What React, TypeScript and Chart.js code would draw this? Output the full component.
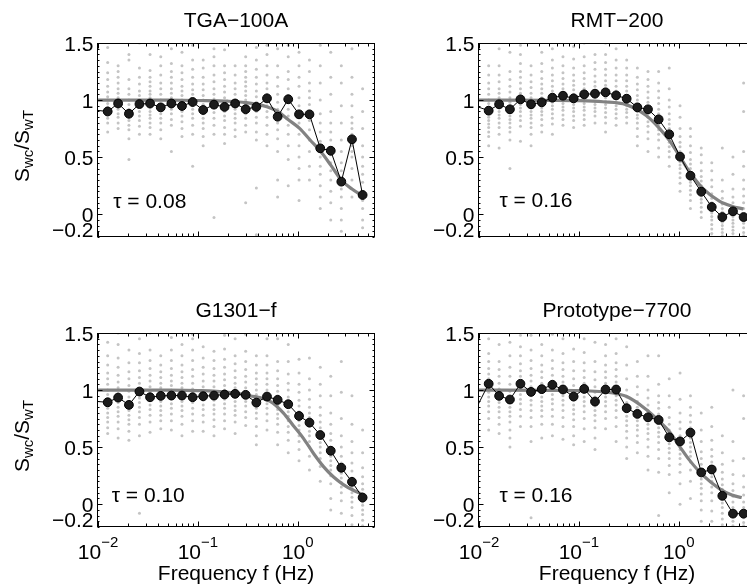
import React, { useEffect, useRef } from 'react';
import { Chart, registerables } from 'chart.js';

Chart.register(...registerables);

// ---------- data ----------
// bin centre frequencies (Hz); the first entry lies just left of the axis
const binFreq = [0.00976, 0.0125, 0.0159, 0.0204, 0.026, 0.0332, 0.0425, 0.0543, 0.0693, 0.0886, 0.113, 0.145, 0.185, 0.236, 0.301, 0.385, 0.492, 0.629, 0.803, 1.03, 1.31, 1.68, 2.14, 2.73, 3.49, 4.46];

const tgaMean = [0.91, 0.9, 0.97, 0.88, 0.965, 0.97, 0.936, 0.97, 0.948, 0.983, 0.913, 0.96, 0.94, 0.97, 0.92, 0.94, 1.015, 0.854, 1.007, 0.875, 0.875, 0.577, 0.556, 0.285, 0.656, 0.168];
const rmtMean = [0.94, 0.907, 0.963, 0.919, 1.006, 0.963, 0.98, 1.021, 1.038, 1.015, 1.05, 1.056, 1.068, 1.041, 1.012, 0.936, 0.919, 0.831, 0.7, 0.504, 0.337, 0.197, 0.063, -0.025, 0.025, -0.025];
const g1301Mean = [0.9, 0.893, 0.934, 0.87, 0.987, 0.937, 0.949, 0.952, 0.952, 0.937, 0.946, 0.952, 0.961, 0.967, 0.958, 0.89, 0.943, 0.914, 0.876, 0.773, 0.715, 0.606, 0.468, 0.319, 0.196, 0.058];
const protoMean = [0.87, 1.055, 0.949, 0.917, 1.055, 0.984, 1.008, 1.046, 1.005, 0.943, 1.01, 0.899, 1.005, 1.005, 0.841, 0.791, 0.761, 0.738, 0.586, 0.55, 0.627, 0.278, 0.304, 0.073, -0.083, -0.083];

const tgaFitF = [0.01, 0.05, 0.1, 0.2, 0.3, 0.49, 0.63, 0.8, 1.05, 1.33, 1.675, 2.14, 2.73, 3.49, 4.46];
const tgaFitV = [1.0, 0.999, 0.996, 0.99, 0.978, 0.942, 0.9, 0.83, 0.75, 0.65, 0.555, 0.43, 0.3, 0.22, 0.16];
const rmtFitF = [0.01, 0.05, 0.1, 0.174, 0.298, 0.472, 0.641, 0.807, 1.016, 1.28, 1.74, 2.55, 3.4, 4.44];
const rmtFitV = [1.0, 0.998, 0.995, 0.985, 0.96, 0.865, 0.752, 0.645, 0.51, 0.372, 0.226, 0.115, 0.07, 0.045];
const g1301FitF = [0.01, 0.05, 0.1, 0.2, 0.333, 0.53, 0.716, 0.9, 1.14, 1.44, 1.82, 2.27, 2.86, 3.6, 4.46];
const g1301FitV = [1.0, 0.999, 0.995, 0.98, 0.95, 0.9, 0.8, 0.69, 0.577, 0.444, 0.327, 0.24, 0.172, 0.122, 0.085];
const protoFitF = [0.01, 0.05, 0.1, 0.174, 0.298, 0.472, 0.641, 0.807, 1.016, 1.28, 1.74, 2.55, 3.4, 4.27];
const protoFitV = [1.0, 0.998, 0.995, 0.985, 0.945, 0.83, 0.725, 0.635, 0.509, 0.386, 0.254, 0.137, 0.08, 0.058];

// individual estimates per bin (bins 1..25)
const tgaScatter = [
  [1.46, 1.33, 1.24, 1.18, 1.12, 1.07, 1.03, 1.0, 0.97, 0.94, 0.91, 0.87, 0.84, 0.8, 0.72],
  [1.3, 1.25, 1.2, 1.15, 1.1, 1.06, 1.02, 0.98, 0.95, 0.92, 0.88, 0.85, 0.8, 0.75],
  [1.4, 1.35, 1.18, 1.1, 1.05, 1.0, 0.96, 0.92, 0.88, 0.85, 0.82, 0.78, 0.74, 0.66, 0.48],
  [1.5, 1.28, 1.2, 1.14, 1.08, 1.04, 1.0, 0.97, 0.94, 0.9, 0.86, 0.82, 0.77, 0.7],
  [1.4, 1.26, 1.2, 1.16, 1.12, 1.08, 1.05, 1.02, 0.99, 0.96, 0.93, 0.9, 0.87, 0.84, 0.8, 0.76, 0.7],
  [1.38, 1.3, 1.22, 1.15, 1.1, 1.05, 1.0, 0.96, 0.92, 0.88, 0.84, 0.8, 0.74, 0.66],
  [1.45, 1.32, 1.25, 1.2, 1.15, 1.1, 1.06, 1.02, 0.99, 0.96, 0.92, 0.88, 0.83, 0.78, 0.55],
  [1.42, 1.3, 1.24, 1.18, 1.12, 1.08, 1.04, 1.0, 0.96, 0.93, 0.9, 0.86, 0.81, 0.75, 0.68],
  [1.48, 1.35, 1.27, 1.2, 1.14, 1.09, 1.05, 1.01, 0.98, 0.95, 0.92, 0.88, 0.84, 0.78, 0.7, 0.42],
  [1.35, 1.28, 1.2, 1.14, 1.09, 1.04, 1.0, 0.96, 0.92, 0.88, 0.84, 0.8, 0.75, 0.68, 0.6],
  [1.45, 1.38, 1.3, 1.22, 1.16, 1.1, 1.05, 1.01, 0.97, 0.93, 0.89, 0.84, 0.78, 0.7, -0.03],
  [1.44, 1.3, 1.24, 1.18, 1.12, 1.07, 1.02, 0.98, 0.94, 0.9, 0.86, 0.82, 0.76, 0.7, 0.62],
  [1.3, 1.22, 1.15, 1.1, 1.05, 1.0, 0.96, 0.92, 0.88, 0.84, 0.8, 0.74, 0.68],
  [1.38, 1.3, 1.25, 1.2, 1.16, 1.12, 1.08, 1.04, 1.0, 0.96, 0.92, 0.88, 0.84, 0.78, 0.72, 0.1],
  [1.46, 1.35, 1.27, 1.2, 1.14, 1.08, 1.03, 0.98, 0.94, 0.9, 0.85, 0.8, 0.72, 0.65, 0.23, -0.18],
  [1.48, 1.4, 1.3, 1.22, 1.15, 1.1, 1.05, 1.0, 0.95, 0.9, 0.85, 0.78, 0.7, 0.6],
  [1.45, 1.3, 1.2, 1.12, 1.05, 0.98, 0.92, 0.86, 0.8, 0.74, 0.66, 0.55, 0.3, 0.15],
  [1.48, 1.38, 1.25, 1.18, 1.1, 1.04, 0.98, 0.92, 0.86, 0.78, 0.7, 0.6, 0.48, 0.25],
  [1.42, 1.3, 1.2, 1.12, 1.02, 0.95, 0.88, 0.8, 0.7, 0.6, 0.5, 0.4, 0.3, 0.12],
  [1.35, 1.25, 1.15, 1.08, 1.02, 0.96, 0.9, 0.82, 0.74, 0.65, 0.55, 0.42, 0.3],
  [1.48, 1.3, 1.15, 1.0, 0.88, 0.8, 0.72, 0.64, 0.56, 0.5, 0.42, 0.35, 0.25, 0.15, 0.05],
  [1.42, 1.2, 1.05, 0.9, 0.8, 0.72, 0.65, 0.58, 0.52, 0.45, 0.38, 0.3, 0.2, 0.1, -0.05],
  [1.3, 1.15, 0.95, 0.8, 0.65, 0.55, 0.45, 0.38, 0.3, 0.22, 0.15, 0.05, -0.05, -0.15],
  [1.45, 1.2, 1.05, 0.95, 0.85, 0.8, 0.75, 0.7, 0.66, 0.6, 0.55, 0.5, 0.4, 0.3, 0.15],
  [1.1, 0.9, 0.75, 0.6, 0.5, 0.42, 0.35, 0.28, 0.2, 0.12, 0.05, -0.05, -0.12],
];
const rmtScatter = [
  [1.3, 1.22, 1.15, 1.1, 1.05, 1.0, 0.97, 0.94, 0.91, 0.88, 0.85, 0.82, 0.79, 0.76, 0.72, 0.68, 0.6],
  [1.45, 1.3, 1.22, 1.16, 1.1, 1.06, 1.02, 0.99, 0.96, 0.93, 0.9, 0.87, 0.84, 0.8, 0.76, 0.7, 0.58],
  [1.42, 1.25, 1.18, 1.12, 1.07, 1.02, 0.98, 0.95, 0.92, 0.89, 0.86, 0.83, 0.8, 0.76, 0.72, 0.65, 0.4],
  [1.48, 1.4, 1.32, 1.25, 1.2, 1.15, 1.1, 1.06, 1.02, 0.99, 0.96, 0.93, 0.9, 0.86, 0.82, 0.77, 0.64],
  [1.3, 1.22, 1.16, 1.11, 1.06, 1.02, 0.99, 0.96, 0.93, 0.9, 0.87, 0.84, 0.8, 0.76, 0.7, 0.6],
  [1.42, 1.32, 1.25, 1.19, 1.14, 1.1, 1.06, 1.02, 0.99, 0.96, 0.93, 0.9, 0.87, 0.83, 0.78, 0.72],
  [1.45, 1.35, 1.28, 1.22, 1.17, 1.12, 1.08, 1.04, 1.01, 0.98, 0.95, 0.92, 0.88, 0.84, 0.79, 0.7],
  [1.38, 1.3, 1.24, 1.19, 1.14, 1.1, 1.06, 1.03, 1.0, 0.97, 0.94, 0.91, 0.87, 0.83, 0.78],
  [1.47, 1.36, 1.28, 1.22, 1.17, 1.13, 1.09, 1.05, 1.02, 0.99, 0.96, 0.93, 0.9, 0.86, 0.82, 0.76],
  [1.5, 1.38, 1.3, 1.24, 1.19, 1.14, 1.1, 1.06, 1.03, 1.0, 0.97, 0.94, 0.91, 0.87, 0.83, 0.78],
  [1.4, 1.33, 1.27, 1.21, 1.16, 1.12, 1.08, 1.05, 1.02, 0.99, 0.96, 0.93, 0.9, 0.86, 0.8],
  [1.5, 1.4, 1.33, 1.27, 1.22, 1.17, 1.13, 1.09, 1.05, 1.02, 0.99, 0.96, 0.93, 0.89, 0.85, 0.8, 0.72],
  [1.45, 1.35, 1.28, 1.22, 1.17, 1.12, 1.08, 1.04, 1.01, 0.98, 0.95, 0.92, 0.88, 0.84, 0.78],
  [1.35, 1.28, 1.22, 1.17, 1.12, 1.08, 1.04, 1.01, 0.98, 0.95, 0.92, 0.89, 0.85, 0.8],
  [1.28, 1.2, 1.14, 1.09, 1.04, 1.0, 0.96, 0.93, 0.9, 0.87, 0.84, 0.8, 0.75, 0.68, 0.6],
  [1.25, 1.18, 1.12, 1.07, 1.02, 0.98, 0.94, 0.91, 0.88, 0.85, 0.81, 0.77, 0.72, 0.66, 0.55],
  [1.25, 1.15, 1.08, 1.02, 0.97, 0.92, 0.88, 0.85, 0.82, 0.78, 0.74, 0.7, 0.65, 0.58, 0.5],
  [1.28, 1.1, 1.0, 0.94, 0.88, 0.83, 0.79, 0.75, 0.71, 0.67, 0.63, 0.59, 0.55, 0.5, 0.42],
  [0.95, 0.85, 0.75, 0.68, 0.63, 0.59, 0.55, 0.52, 0.49, 0.46, 0.43, 0.4, 0.36, 0.32, 0.27, 0.2],
  [0.75, 0.68, 0.6, 0.54, 0.48, 0.44, 0.4, 0.37, 0.34, 0.31, 0.28, 0.25, 0.21, 0.17, 0.12, 0.05],
  [0.58, 0.52, 0.45, 0.38, 0.33, 0.29, 0.25, 0.22, 0.19, 0.16, 0.13, 0.1, 0.06, 0.02, -0.03],
  [0.45, 0.38, 0.3, 0.24, 0.18, 0.14, 0.1, 0.07, 0.04, 0.01, -0.02, -0.05, -0.09, -0.13, -0.17, -0.2],
  [0.58, 0.3, 0.2, 0.14, 0.09, 0.05, 0.02, -0.01, -0.04, -0.07, -0.1, -0.13, -0.16, -0.19],
  [0.5, 0.35, 0.22, 0.15, 0.1, 0.06, 0.02, -0.02, -0.05, -0.08, -0.11, -0.14, -0.17, -0.2],
  [1.15, 0.9, 0.55, 0.42, 0.3, 0.22, 0.16, 0.1, 0.05, 0.0, -0.04, -0.08, -0.12, -0.16, -0.19],
];
const g1301Scatter = [
  [1.42, 1.3, 1.22, 1.15, 1.1, 1.05, 1.0, 0.96, 0.92, 0.88, 0.84, 0.8, 0.76, 0.72, 0.67, 0.62],
  [1.5, 1.4, 1.28, 1.2, 1.13, 1.07, 1.02, 0.97, 0.93, 0.89, 0.85, 0.81, 0.77, 0.72, 0.66, 0.58],
  [1.35, 1.24, 1.16, 1.1, 1.04, 0.99, 0.94, 0.9, 0.86, 0.82, 0.78, 0.74, 0.7, 0.64, 0.56],
  [1.45, 1.32, 1.24, 1.17, 1.11, 1.06, 1.01, 0.97, 0.93, 0.89, 0.85, 0.81, 0.76, 0.7, 0.6, -0.08],
  [1.5, 1.35, 1.26, 1.19, 1.13, 1.08, 1.03, 0.99, 0.95, 0.91, 0.87, 0.83, 0.78, 0.72, 0.63],
  [1.3, 1.22, 1.16, 1.11, 1.06, 1.02, 0.98, 0.94, 0.9, 0.86, 0.82, 0.78, 0.73, 0.66],
  [1.46, 1.35, 1.26, 1.19, 1.13, 1.08, 1.04, 1.0, 0.96, 0.92, 0.88, 0.84, 0.79, 0.73, 0.65],
  [1.4, 1.3, 1.22, 1.16, 1.11, 1.06, 1.02, 0.98, 0.94, 0.9, 0.86, 0.82, 0.77, 0.7, 0.6],
  [1.49, 1.45, 1.35, 1.26, 1.18, 1.12, 1.06, 1.01, 0.97, 0.93, 0.89, 0.84, 0.79, 0.73, 0.64],
  [1.38, 1.28, 1.2, 1.14, 1.08, 1.03, 0.99, 0.95, 0.91, 0.87, 0.83, 0.78, 0.72, 0.64],
  [1.34, 1.26, 1.19, 1.13, 1.08, 1.03, 0.99, 0.95, 0.91, 0.87, 0.83, 0.79, 0.74, 0.68, 0.6],
  [1.48, 1.36, 1.27, 1.2, 1.14, 1.09, 1.04, 1.0, 0.96, 0.92, 0.88, 0.84, 0.79, 0.73, 0.66],
  [1.45, 1.3, 1.23, 1.17, 1.11, 1.06, 1.02, 0.98, 0.94, 0.9, 0.86, 0.82, 0.78, 0.72, 0.62],
  [1.49, 1.34, 1.25, 1.18, 1.12, 1.07, 1.02, 0.98, 0.94, 0.9, 0.86, 0.81, 0.76, 0.69],
  [1.3, 1.22, 1.15, 1.1, 1.05, 1.0, 0.96, 0.92, 0.88, 0.84, 0.8, 0.75, 0.68, 0.6, 0.52],
  [1.45, 1.3, 1.22, 1.15, 1.1, 1.05, 1.0, 0.96, 0.92, 0.88, 0.84, 0.79, 0.73, 0.65],
  [1.45, 1.25, 1.17, 1.1, 1.04, 0.99, 0.95, 0.91, 0.87, 0.83, 0.79, 0.75, 0.7, 0.63, 0.52],
  [1.4, 1.25, 1.14, 1.06, 1.0, 0.94, 0.9, 0.85, 0.81, 0.77, 0.73, 0.68, 0.63, 0.56, 0.45],
  [1.27, 1.15, 1.05, 0.98, 0.91, 0.86, 0.81, 0.77, 0.73, 0.69, 0.65, 0.6, 0.55, 0.48, 0.38],
  [1.28, 1.1, 1.0, 0.92, 0.85, 0.8, 0.76, 0.72, 0.68, 0.64, 0.6, 0.55, 0.5, 0.42, 0.3],
  [1.2, 1.05, 0.95, 0.85, 0.78, 0.72, 0.67, 0.62, 0.58, 0.54, 0.5, 0.45, 0.4, 0.33, 0.2],
  [1.12, 0.95, 0.8, 0.7, 0.62, 0.56, 0.5, 0.46, 0.42, 0.38, 0.34, 0.3, 0.25, 0.18, 0.05, -0.05],
  [1.25, 0.98, 0.75, 0.6, 0.5, 0.42, 0.36, 0.31, 0.27, 0.23, 0.19, 0.15, 0.1, 0.03, -0.08],
  [0.95, 0.7, 0.55, 0.45, 0.36, 0.29, 0.23, 0.18, 0.14, 0.1, 0.06, 0.02, -0.03, -0.1, -0.18],
  [0.65, 0.45, 0.32, 0.24, 0.18, 0.13, 0.09, 0.05, 0.02, -0.01, -0.05, -0.09, -0.14, -0.19],
];
const protoScatter = [
  [1.45, 1.32, 1.25, 1.19, 1.14, 1.1, 1.06, 1.02, 0.98, 0.94, 0.9, 0.86, 0.81, 0.75, 0.65],
  [1.4, 1.25, 1.18, 1.12, 1.06, 1.01, 0.97, 0.93, 0.89, 0.85, 0.81, 0.76, 0.7, 0.62],
  [1.42, 1.3, 1.2, 1.12, 1.05, 0.99, 0.94, 0.89, 0.85, 0.81, 0.77, 0.72, 0.65, 0.58, 0.5],
  [1.48, 1.38, 1.3, 1.23, 1.17, 1.12, 1.08, 1.04, 1.0, 0.96, 0.92, 0.88, 0.83, 0.77, 0.68],
  [1.48, 1.35, 1.26, 1.19, 1.13, 1.08, 1.03, 0.99, 0.95, 0.91, 0.87, 0.82, 0.76, 0.68, 0.55, -0.12],
  [1.4, 1.3, 1.22, 1.16, 1.11, 1.06, 1.02, 0.98, 0.94, 0.9, 0.86, 0.82, 0.77, 0.7, 0.58],
  [1.49, 1.35, 1.26, 1.19, 1.13, 1.08, 1.04, 1.0, 0.96, 0.92, 0.88, 0.83, 0.77, 0.7, 0.6],
  [1.45, 1.32, 1.24, 1.18, 1.12, 1.07, 1.03, 0.99, 0.95, 0.91, 0.87, 0.82, 0.76, 0.68, 0.57],
  [1.36, 1.25, 1.17, 1.1, 1.04, 0.99, 0.95, 0.91, 0.87, 0.83, 0.79, 0.74, 0.68, 0.6, 0.52],
  [1.45, 1.33, 1.24, 1.17, 1.11, 1.06, 1.02, 0.98, 0.94, 0.9, 0.86, 0.81, 0.75, 0.66, 0.55],
  [1.42, 1.25, 1.16, 1.09, 1.03, 0.98, 0.94, 0.9, 0.86, 0.82, 0.78, 0.73, 0.67, 0.58, 0.48],
  [1.4, 1.3, 1.22, 1.16, 1.11, 1.06, 1.02, 0.98, 0.94, 0.9, 0.86, 0.81, 0.75, 0.66],
  [1.45, 1.32, 1.24, 1.18, 1.12, 1.07, 1.03, 0.99, 0.95, 0.91, 0.87, 0.82, 0.76, 0.68, 0.55],
  [1.38, 1.22, 1.1, 1.0, 0.94, 0.89, 0.85, 0.81, 0.77, 0.73, 0.69, 0.64, 0.58, 0.5, 0.4],
  [1.25, 1.12, 1.03, 0.96, 0.9, 0.85, 0.81, 0.77, 0.73, 0.69, 0.65, 0.6, 0.54, 0.45],
  [1.3, 1.12, 1.0, 0.93, 0.87, 0.82, 0.78, 0.74, 0.7, 0.66, 0.62, 0.57, 0.5, 0.42, 0.3],
  [1.3, 1.05, 0.95, 0.89, 0.84, 0.79, 0.75, 0.71, 0.67, 0.63, 0.59, 0.54, 0.48, 0.4, 0.28, -0.1],
  [1.1, 0.95, 0.85, 0.76, 0.7, 0.65, 0.61, 0.57, 0.53, 0.49, 0.45, 0.4, 0.34, 0.26, 0.1],
  [1.15, 0.92, 0.8, 0.72, 0.66, 0.6, 0.56, 0.52, 0.48, 0.44, 0.4, 0.35, 0.28, 0.18, 0.0],
  [0.95, 0.85, 0.78, 0.72, 0.67, 0.62, 0.58, 0.54, 0.5, 0.46, 0.42, 0.37, 0.3, 0.2, 0.05],
  [0.8, 0.65, 0.55, 0.46, 0.4, 0.35, 0.3, 0.26, 0.22, 0.18, 0.14, 0.09, 0.03, -0.05, -0.15],
  [0.85, 0.68, 0.56, 0.48, 0.42, 0.37, 0.32, 0.28, 0.24, 0.2, 0.15, 0.1, 0.03, -0.06, -0.15],
  [0.6, 0.45, 0.35, 0.28, 0.22, 0.17, 0.13, 0.09, 0.05, 0.01, -0.03, -0.08, -0.13, -0.18],
  [1.0, 0.55, 0.38, 0.26, 0.18, 0.12, 0.07, 0.02, -0.03, -0.07, -0.11, -0.15, -0.19],
  [0.95, 0.75, 0.4, 0.25, 0.15, 0.08, 0.02, -0.03, -0.08, -0.12, -0.16, -0.19],
];

const yTickVals = [-0.2, 0, 0.5, 1, 1.5];
const yTickText = ['\u22120.2', '0', '0.5', '1', '1.5'];
const xTickExp = [-2, -1, 0];

// ---------- layout ----------
const W = 800;
const H = 584;
const X_MIN = 0.01;
const X_MAX = 5.8;
const Y_MIN = -0.2;
const Y_MAX = 1.5;
const FONT = "'Liberation Sans', Arial, Helvetica, sans-serif";
const FS = 21;

type Panel = {
  title: string;
  tau: string;
  tauAt: [number, number];
  mean: number[];
  fitF: number[];
  fitV: number[];
  scatter: number[][];
  left: number;
  top: number;
  right: number;
  bottom: number;
  yLabel: boolean;
  xLabels: boolean;
};

const panels: Panel[] = [
  { title: 'TGA\u2212100A', tau: '\u03c4 = 0.08', tauAt: [0.0142, 0.055], mean: tgaMean, fitF: tgaFitF, fitV: tgaFitV, scatter: tgaScatter, left: 98, top: 43, right: 374, bottom: 237, yLabel: true, xLabels: false },
  { title: 'RMT\u2212200', tau: '\u03c4 = 0.16', tauAt: [0.016, 0.065], mean: rmtMean, fitF: rmtFitF, fitV: rmtFitV, scatter: rmtScatter, left: 479, top: 43, right: 755, bottom: 237, yLabel: false, xLabels: false },
  { title: 'G1301\u2212f', tau: '\u03c4 = 0.10', tauAt: [0.0137, 0.02], mean: g1301Mean, fitF: g1301FitF, fitV: g1301FitV, scatter: g1301Scatter, left: 98, top: 333, right: 374, bottom: 527, yLabel: true, xLabels: true },
  { title: 'Prototype\u22127700', tau: '\u03c4 = 0.16', tauAt: [0.016, 0.022], mean: protoMean, fitF: protoFitF, fitV: protoFitV, scatter: protoScatter, left: 479, top: 333, right: 755, bottom: 527, yLabel: false, xLabels: true },
];

function decor(p: Panel) {
  return {
    id: 'decor',
    afterDatasetsDraw(chart: any) {
      const ctx: CanvasRenderingContext2D = chart.ctx;
      const xs = chart.scales.x;
      const ys = chart.scales.y;
      const { left, right, top, bottom } = chart.chartArea;
      const L = left - 0.5;
      const R = right + 0.5;
      const T = top + 0.5;
      const B = bottom - 0.5;
      ctx.save();
      ctx.strokeStyle = '#000';
      ctx.lineWidth = 1;
      ctx.strokeRect(L, T, R - L, B - T);
      ctx.beginPath();
      for (const d of xTickExp) {
        for (let m = 1; m <= 9; m++) {
          const v = m * Math.pow(10, d);
          if (v < X_MIN || v > X_MAX) continue;
          const px = Math.round(xs.getPixelForValue(v)) + 0.5;
          const len = m === 1 ? 5 : 3;
          ctx.moveTo(px, B);
          ctx.lineTo(px, B - len);
          ctx.moveTo(px, T);
          ctx.lineTo(px, T + len);
        }
      }
      for (let k = -4; k <= 30; k++) {
        const v = k * 0.05;
        const py = Math.round(ys.getPixelForValue(v)) + 0.5;
        const major = k % 10 === 0;
        const len = major ? 5 : 2;
        ctx.moveTo(L, py);
        ctx.lineTo(L + len, py);
        ctx.moveTo(R, py);
        ctx.lineTo(R - len, py);
      }
      ctx.stroke();

      ctx.fillStyle = '#000';
      // y tick labels
      ctx.font = `${FS}px ${FONT}`;
      ctx.textAlign = 'right';
      ctx.textBaseline = 'alphabetic';
      yTickVals.forEach((v, i) => {
        const py = ys.getPixelForValue(v);
        ctx.fillText(yTickText[i], L - 4, v === Y_MIN ? py : py + 7.5);
      });

      // title
      ctx.textAlign = 'center';
      ctx.font = `${FS}px ${FONT}`;
      ctx.fillText(p.title, (left + right) / 2, top - 16.5);

      // tau annotation
      ctx.textAlign = 'left';
      ctx.font = `${FS}px ${FONT}`;
      ctx.fillText(p.tau, xs.getPixelForValue(p.tauAt[0]), ys.getPixelForValue(p.tauAt[1]));

      // x tick labels with superscripts
      if (p.xLabels) {
        xTickExp.forEach((e) => {
          const px = xs.getPixelForValue(Math.pow(10, e));
          const base = '10';
          const sup = e < 0 ? `\u2212${-e}` : `${e}`;
          ctx.font = `${FS}px ${FONT}`;
          const wb = ctx.measureText(base).width;
          ctx.font = `15px ${FONT}`;
          const ws = ctx.measureText(sup).width;
          const x0 = px - (wb + ws) / 2;
          ctx.textAlign = 'left';
          ctx.font = `${FS}px ${FONT}`;
          ctx.fillText(base, x0, bottom + 31.5);
          ctx.font = `15px ${FONT}`;
          ctx.fillText(sup, x0 + wb, bottom + 20);
        });
        ctx.textAlign = 'center';
        ctx.font = `${FS}px ${FONT}`;
        ctx.fillText('Frequency f (Hz)', (left + right) / 2, bottom + 53);
      }

      // y axis label with subscripts
      if (p.yLabel) {
        const segs: [string, boolean][] = [['S', false], ['wc', true], ['/S', false], ['wT', true]];
        let total = 0;
        const widths = segs.map(([t, sub]) => {
          ctx.font = `${sub ? 15 : FS}px ${FONT}`;
          const w = ctx.measureText(t).width;
          total += w;
          return w;
        });
        ctx.save();
        ctx.translate(28.5, (top + bottom) / 2 + 6);
        ctx.rotate(-Math.PI / 2);
        ctx.textAlign = 'left';
        let x = -total / 2;
        segs.forEach(([t, sub], i) => {
          ctx.font = `${sub ? 15 : FS}px ${FONT}`;
          ctx.fillText(t, x, sub ? 4.5 : 0);
          x += widths[i];
        });
        ctx.restore();
      }
      ctx.restore();
    },
  };
}

function PanelChart({ p }: { p: Panel }) {
  const ref = useRef<HTMLCanvasElement>(null);
  useEffect(() => {
    const pts: { x: number; y: number }[] = [];
    p.scatter.forEach((col, i) => col.forEach((v) => pts.push({ x: binFreq[i + 1], y: v })));
    const chart = new Chart(ref.current as HTMLCanvasElement, {
      type: 'scatter',
      data: {
        datasets: [
          {
            data: pts,
            pointRadius: 1.5,
            pointBackgroundColor: '#c4c4c4',
            backgroundColor: '#c4c4c4',
            pointBorderWidth: 0,
            borderWidth: 0,
            order: 3,
            clip: 0,
          } as any,
          {
            data: p.fitF.map((f, i) => ({ x: f, y: p.fitV[i] })),
            showLine: true,
            borderColor: '#828282',
            borderWidth: 3.2,
            pointRadius: 0,
            cubicInterpolationMode: 'monotone',
            order: 2,
            clip: 0,
          } as any,
          {
            data: binFreq.map((f, i) => ({ x: f, y: p.mean[i] })),
            showLine: true,
            borderColor: '#000',
            borderWidth: 1,
            pointRadius: (c: any) => (c.raw && c.raw.x < X_MIN ? 0 : 4.4),
            pointBackgroundColor: '#1c1c1c',
            pointBorderColor: '#000',
            pointBorderWidth: 1,
            order: 1,
            clip: 0,
          } as any,
        ],
      },
      options: {
        responsive: false,
        animation: false,
        devicePixelRatio: 1,
        events: [],
        layout: { padding: { left: p.left, top: p.top, right: W - p.right, bottom: H - p.bottom } },
        plugins: { legend: { display: false }, tooltip: { enabled: false }, title: { display: false } },
        scales: {
          x: { type: 'logarithmic', min: X_MIN, max: X_MAX, display: false },
          y: { type: 'linear', min: Y_MIN, max: Y_MAX, display: false },
        },
      } as any,
      plugins: [decor(p)],
    });
    return () => chart.destroy();
  }, [p]);
  return <canvas ref={ref} width={W} height={H} style={{ position: 'absolute', left: 0, top: 0 }} />;
}

export default function App() {
  return (
    <div style={{ position: 'absolute', left: 0, top: 0, width: 747, height: 584, overflow: 'hidden', background: '#fff' }}>
      {panels.map((p, i) => (
        <PanelChart key={i} p={p} />
      ))}
    </div>
  );
}
